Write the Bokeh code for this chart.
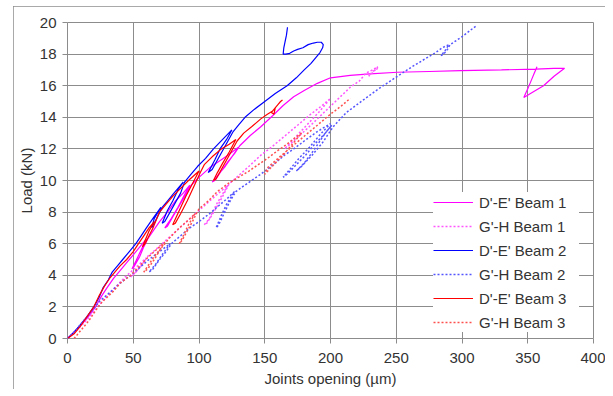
from bokeh.plotting import figure
from bokeh.models import Range1d, FixedTicker, Legend, LegendItem
from bokeh.embed import file_html
from bokeh.resources import INLINE

# ---- data (joint opening in micrometres, load in kN) ----
de_beam1 = [(0,0),(6,0.5),(12,1.0),(17,1.5),(22,2.1),(26,2.7),(30,3.2),(35,3.8),(40,4.3),(45,4.8),
            (50,5.3),(55,5.8),(60,6.3),(56,5.6),(52,4.9),(49,4.4),(51,4.6),(55,5.2),(58,5.8),(61,6.3),
            (65,6.8),(70,7.4),(76,8.0),(82,8.7),(88,9.2),(93,9.7),(89,9.1),(84,8.3),(79,7.6),(74,7.0),
            (76,7.1),(80,7.7),(85,8.4),(90,9.1),(94,9.7),(100,10.2),(108,10.8),(115,11.2),(122,11.6),
            (130,12.1),(125,11.5),(120,10.9),(115,10.4),(110,9.9),(112,10.0),(117,10.6),(122,11.2),
            (127,11.7),(131,12.2),(139,12.85),(147,13.4),(156,14.1),(164,14.75),(172,15.3),(180,15.7),
            (190,16.15),(200,16.5),(215,16.65),(230,16.75),(251,16.85),(275,16.9),(299,16.95),(330,17.0),
            (356,17.05),(370,17.1),(378,17.1),(370,16.6),(362,16.0),(354,15.6),(347,15.25),(350,15.8),
            (353,16.4),(355,16.8),(356,17.0),(357,17.2)]

gh_beam1 = [(0,0),(8,0.6),(15,1.2),(22,1.9),(30,2.7),(37,3.3),(44,3.9),(52,4.5),(60,5.1),(56,4.6),
            (52,4.2),(48,3.9),(51,4.1),(56,4.6),(61,5.2),(68,5.7),(76,6.3),(84,6.9),(92,7.5),(100,8.1),
            (108,8.7),(115,9.2),(122,9.7),(114,8.6),(108,7.6),(104,7.2),(106,7.3),(112,8.1),(118,9.0),
            (123,9.8),(130,10.3),(138,10.9),(147,11.6),(155,12.1),(165,12.8),(175,13.5),(185,14.2),
            (193,14.7),(200,15.2),(192,14.4),(183,13.6),(174,12.8),(165,12.0),(168,12.2),(176,12.8),
            (185,13.5),(195,14.3),(205,15.1),(215,15.9),(222,16.3),(227,16.8),(232,17.0),(236,17.2),
            (233,16.9),(229,16.6),(232,16.9),(236,17.1)]

de_beam2 = [(0,0),(5,0.4),(10,0.9),(15,1.4),(20,2.0),(24,2.6),(27,3.2),(31,3.7),(34,4.2),(38,4.6),
            (42,5.0),(47,5.5),(52,6.0),(56,6.5),(60,7.0),(65,7.6),(71,8.3),(66,7.6),(64,7.0),(66,7.3),
            (69,7.8),(72,8.3),(76,8.7),(80,9.1),(84,9.5),(88,9.9),(84,9.4),(80,8.7),(76,8.1),(72,7.3),
            (74,7.4),(78,8.0),(82,8.6),(86,9.2),(89,9.9),(94,10.4),(99,10.9),(105,11.4),(111,12.0),
            (118,12.6),(125,13.2),(121,12.6),(116,12.0),(112,11.3),(107,10.5),(110,10.7),(114,11.3),
            (118,11.9),(122,12.5),(126,13.1),(130,13.5),(135,14.0),(142,14.5),(150,15.0),(158,15.5),
            (167,16.0),(174,16.5),(180,17.0),(185,17.4),(189,17.8),(192,18.1),(194,18.4),(194.5,18.6),
            (193,18.75),(190,18.75),(187,18.7),(183,18.6),(179,18.4),(175,18.3),(172,18.2),(169,18.05),
            (166,18.0),(164,18.0),(164.5,18.4),(165.5,18.8),(166.5,19.2),(167.3,19.7)]

gh_beam2 = [(0,0),(6,0.5),(12,1.1),(18,1.7),(25,2.4),(32,2.9),(40,3.5),(48,4.0),(55,4.5),(62,5.0),
            (70,5.5),(78,6.0),(72,5.3),(67,4.7),(62,4.2),(65,4.4),(70,5.0),(75,5.5),(79,6.0),(86,6.5),
            (93,7.0),(100,7.4),(108,7.9),(115,8.4),(122,8.9),(127,9.3),(121,8.5),(117,7.8),(113,7.0),
            (115,7.2),(119,7.9),(123,8.6),(128,9.3),(133,9.6),(140,10.0),(147,10.4),(155,10.9),
            (165,11.6),(172,12.0),(180,12.5),(190,13.1),(200,13.6),(192,12.9),(184,12.1),(176,11.4),
            (170,10.8),(164,10.2),(167,10.4),(174,11.0),(181,11.6),(188,12.3),(195,12.9),(201,13.5),
            (196,13.0),(188,12.0),(180,11.1),(174,10.6),(178,10.9),(186,11.6),(194,12.4),(202,13.4),
            (212,14.3),(225,15.1),(236.5,15.8),(251,16.6),(262,17.2),(272,17.7),(280,18.1),(285,18.4),
            (290,18.6),(287,18.2),(284,17.9),(286,18.0),(289,18.3),(291,18.6),(300,19.1),(311,19.8)]

de_beam3 = [(0,0),(5,0.3),(10,0.8),(15,1.4),(20,2.0),(24,2.7),(28,3.3),(32,3.8),(36,4.2),(40,4.6),
            (45,5.0),(50,5.5),(54,6.0),(58,6.5),(62,7.0),(66,7.4),(62,6.8),(59,6.2),(57,5.8),(59,6.0),
            (62,6.5),(65,7.0),(67,7.4),(70,8.0),(75,8.5),(80,9.0),(86,9.5),(92,10.0),(100,10.6),
            (95,9.8),(90,9.0),(85,8.1),(80,7.2),(82,7.3),(86,7.9),(91,8.7),(96,9.6),(101,10.5),
            (104,11.0),(110,11.5),(117,12.0),(123,12.3),(128,12.6),(123,11.8),(118,11.1),(114,10.5),
            (111,10.0),(113,10.1),(117,10.7),(121,11.3),(125,11.9),(129,12.5),(134,13.0),(140,13.4),
            (147,13.9),(152,14.2),(156,14.4),(158,14.6),(157,14.2),(155,14.3),(157,14.5),(160,14.8),
            (162,15.0),(163.5,15.1)]

gh_beam3 = [(5,0),(8,0.3),(12,0.7),(16,1.1),(20,1.6),(25,2.2),(30,2.6),(35,3.0),(40,3.5),(48,4.0),
            (55,4.6),(62,5.2),(70,5.8),(74,6.1),(70,5.6),(66,5.2),(62,4.7),(58,4.2),(61,4.4),(66,5.0),
            (71,5.7),(75,6.1),(78,6.4),(85,7.0),(92,7.5),(97,7.9),(92,7.2),(88,6.5),(85,6.0),(87,6.2),
            (91,6.8),(95,7.4),(98,7.9),(100,8.2),(107,8.7),(114,9.3),(122,9.8),(130,10.2),(138,10.6),
            (145,11.0),(152,11.4),(160,11.9),(167,12.3),(173,12.7),(178,13.0),(172,12.4),(165,11.7),
            (158,11.1),(150,10.4),(152,10.8),(160,11.4),(170,12.1),(180,12.8),(190,13.5),(200,14.2),
            (208,14.7),(215,15.2)]

series_names = ["D'-E' Beam 1", "G'-H Beam 1", "D'-E' Beam 2", "G'-H Beam 2", "D'-E' Beam 3", "G'-H Beam 3"]
x_ticks = [0, 50, 100, 150, 200, 250, 300, 350, 400]
y_ticks = [0, 2, 4, 6, 8, 10, 12, 14, 16, 18, 20]

FONT = "Liberation Sans"
GRID = "#8c8c8c"
TEXT = "#333333"

p = figure(width=592, height=383, output_backend="svg", toolbar_location=None,
           x_range=Range1d(0, 400), y_range=Range1d(0, 20),
           min_border_left=54, min_border_right=12, min_border_top=16, min_border_bottom=51)
p.margin = (6, 0, 0, 13)
p.styles = {"outline": "1px solid #8c8c8c", "outline-offset": "-1px"}

p.background_fill_color = "white"
p.border_fill_color = "white"
p.outline_line_color = GRID
p.outline_line_width = 1

for ax in (p.xaxis[0], p.yaxis[0]):
    ax.axis_line_color = None
    ax.major_tick_line_color = GRID
    ax.major_tick_in = 0
    ax.major_tick_out = 5
    ax.minor_tick_line_color = None
    ax.major_label_text_font = FONT
    ax.major_label_text_font_size = "15px"
    ax.major_label_text_color = TEXT
    ax.axis_label_text_font = FONT
    ax.axis_label_text_font_size = "15px"
    ax.axis_label_text_font_style = "normal"
    ax.axis_label_text_color = TEXT

p.xaxis.ticker = FixedTicker(ticks=x_ticks)
p.yaxis.ticker = FixedTicker(ticks=y_ticks)
p.xaxis.axis_label = "Joints opening (µm)"
p.yaxis.axis_label = "Load (kN)"
p.xaxis.major_label_standoff = 9
p.yaxis.major_label_standoff = 6
p.xaxis.axis_label_standoff = 4
p.yaxis.axis_label_standoff = 2

p.xgrid.ticker = FixedTicker(ticks=x_ticks)
p.ygrid.ticker = FixedTicker(ticks=y_ticks)
p.xgrid.grid_line_color = GRID
p.ygrid.grid_line_color = GRID

styles = [
    (de_beam1, "#ff00ff", "solid", 1.2),
    (gh_beam1, "#ff55ff", "2 2", 1.5),
    (de_beam2, "#0000ff", "solid", 1.2),
    (gh_beam2, "#5555ff", "2 2", 1.5),
    (de_beam3, "#ff0000", "solid", 1.2),
    (gh_beam3, "#ff5050", "2 2", 1.5),
]

items = []
for (data, color, dash, lw), name in zip(styles, series_names):
    xs = [pt[0] for pt in data]
    ys = [pt[1] for pt in data]
    r = p.line(xs, ys, line_color=color, line_width=lw, line_dash=dash)
    items.append(LegendItem(label=name, renderers=[r]))

legend = Legend(items=items, location=(366, 6))
legend.label_text_font = FONT
legend.label_text_font_size = "15px"
legend.label_text_color = TEXT
legend.border_line_color = None
legend.background_fill_color = "white"
legend.background_fill_alpha = 1.0
legend.glyph_width = 40
legend.glyph_height = 20
legend.label_height = 20
legend.label_standoff = 6
legend.spacing = 4
legend.padding = 5
legend.margin = 0
legend.label_width = 100
p.add_layout(legend, "center")

open("out.html", "w").write(file_html(p, INLINE))
